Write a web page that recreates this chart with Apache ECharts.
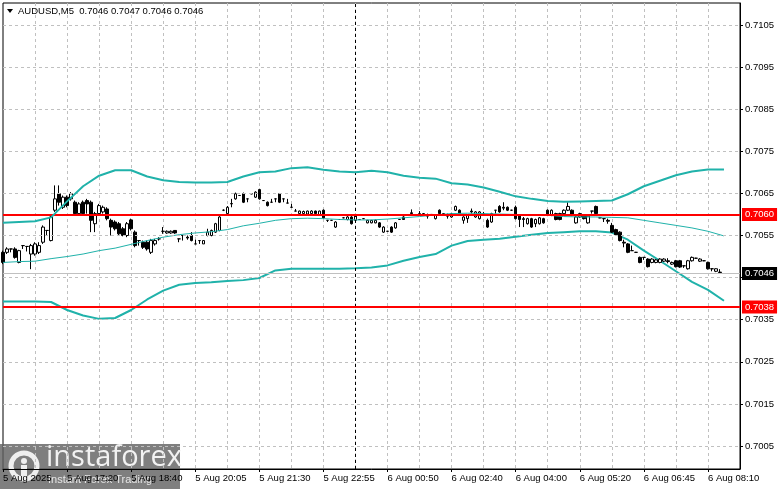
<!DOCTYPE html>
<html>
<head>
<meta charset="utf-8">
<script src="https://cdn.jsdelivr.net/npm/echarts@6/dist/echarts.min.js"></script>
<style>
  html, body { margin: 0; padding: 0; background: #fff; }
  #chart { width: 781px; height: 489px; }
</style>
</head>
<body>
<div id="chart"></div>
<script>
const symbolTitle = "AUDUSD,M5  0.7046 0.7047 0.7046 0.7046";
const slotCount = 185; // visible bar slots, the last few are the empty right shift
const timeLabels = [
  "5 Aug 2025", "5 Aug 17:20", "5 Aug 18:40", "5 Aug 20:05", "5 Aug 21:30", "5 Aug 22:55",
  "6 Aug 00:50", "6 Aug 02:40", "6 Aug 04:00", "6 Aug 05:20", "6 Aug 06:45", "6 Aug 08:10",
];
const barsPerLabel = 16;
const barsPerGrid = 8;
const yTicks = [0.7005, 0.7015, 0.7025, 0.7035, 0.7045, 0.7055, 0.7065, 0.7075, 0.7085, 0.7095, 0.7105];
const levelLines = [0.7060, 0.7038];
const lastPrice = 0.7046;
const daySeparatorBar = 88;

// [open, close, low, high]
const candles = [
  [0.70510, 0.70486, 0.70482, 0.70514], [0.70510, 0.70518, 0.70506, 0.70522], [0.70518, 0.70518, 0.70510, 0.70518],
  [0.70518, 0.70498, 0.70495, 0.70522], [0.70486, 0.70514, 0.70484, 0.70516], [0.70526, 0.70526, 0.70518, 0.70526],
  [0.70524, 0.70524, 0.70512, 0.70524], [0.70506, 0.70526, 0.70470, 0.70530], [0.70506, 0.70530, 0.70502, 0.70534],
  [0.70510, 0.70526, 0.70506, 0.70534], [0.70534, 0.70570, 0.70530, 0.70574], [0.70562, 0.70562, 0.70550, 0.70562],
  [0.70538, 0.70594, 0.70536, 0.70598], [0.70610, 0.70637, 0.70606, 0.70669], [0.70649, 0.70629, 0.70621, 0.70669],
  [0.70617, 0.70641, 0.70613, 0.70645], [0.70641, 0.70621, 0.70617, 0.70645], [0.70637, 0.70649, 0.70633, 0.70653],
  [0.70629, 0.70602, 0.70598, 0.70633], [0.70602, 0.70625, 0.70598, 0.70629], [0.70629, 0.70602, 0.70598, 0.70633],
  [0.70633, 0.70625, 0.70602, 0.70637], [0.70629, 0.70586, 0.70558, 0.70633], [0.70578, 0.70602, 0.70558, 0.70606],
  [0.70602, 0.70621, 0.70598, 0.70625], [0.70606, 0.70617, 0.70602, 0.70621], [0.70613, 0.70590, 0.70586, 0.70617],
  [0.70586, 0.70570, 0.70550, 0.70590], [0.70582, 0.70566, 0.70562, 0.70586], [0.70578, 0.70554, 0.70550, 0.70582],
  [0.70566, 0.70550, 0.70548, 0.70570], [0.70550, 0.70578, 0.70546, 0.70582], [0.70587, 0.70566, 0.70562, 0.70590],
  [0.70558, 0.70526, 0.70522, 0.70562], [0.70538, 0.70538, 0.70526, 0.70538], [0.70534, 0.70522, 0.70518, 0.70538],
  [0.70534, 0.70518, 0.70514, 0.70538], [0.70510, 0.70538, 0.70506, 0.70542], [0.70530, 0.70538, 0.70526, 0.70542],
  [0.70542, 0.70542, 0.70538, 0.70546], [0.70560, 0.70560, 0.70554, 0.70570], [0.70556, 0.70560, 0.70554, 0.70562],
  [0.70556, 0.70560, 0.70554, 0.70562], [0.70562, 0.70556, 0.70554, 0.70562], [0.70542, 0.70542, 0.70534, 0.70542],
  [0.70550, 0.70550, 0.70538, 0.70550], [0.70546, 0.70544, 0.70540, 0.70550], [0.70550, 0.70538, 0.70536, 0.70558],
  [0.70530, 0.70530, 0.70530, 0.70540], [0.70538, 0.70538, 0.70530, 0.70538], [0.70530, 0.70538, 0.70530, 0.70538],
  [0.70550, 0.70558, 0.70548, 0.70566], [0.70550, 0.70562, 0.70548, 0.70564], [0.70558, 0.70578, 0.70556, 0.70580],
  [0.70562, 0.70594, 0.70560, 0.70596], [0.70610, 0.70610, 0.70608, 0.70612], [0.70602, 0.70617, 0.70600, 0.70620],
  [0.70625, 0.70626, 0.70617, 0.70637], [0.70637, 0.70649, 0.70635, 0.70652], [0.70645, 0.70645, 0.70644, 0.70646],
  [0.70649, 0.70629, 0.70627, 0.70652], [0.70637, 0.70637, 0.70629, 0.70637], [0.70649, 0.70649, 0.70648, 0.70650],
  [0.70641, 0.70653, 0.70639, 0.70655], [0.70659, 0.70637, 0.70635, 0.70661], [0.70633, 0.70633, 0.70632, 0.70634],
  [0.70629, 0.70621, 0.70619, 0.70631], [0.70629, 0.70629, 0.70629, 0.70637], [0.70637, 0.70637, 0.70629, 0.70637],
  [0.70649, 0.70629, 0.70627, 0.70651], [0.70637, 0.70637, 0.70629, 0.70637], [0.70627, 0.70627, 0.70627, 0.70637],
  [0.70617, 0.70617, 0.70617, 0.70625], [0.70608, 0.70608, 0.70608, 0.70613], [0.70602, 0.70608, 0.70600, 0.70609],
  [0.70602, 0.70607, 0.70600, 0.70609], [0.70601, 0.70608, 0.70600, 0.70609], [0.70602, 0.70608, 0.70600, 0.70610],
  [0.70608, 0.70602, 0.70600, 0.70609], [0.70598, 0.70608, 0.70597, 0.70609], [0.70610, 0.70592, 0.70590, 0.70612],
  [0.70586, 0.70586, 0.70582, 0.70586], [0.70586, 0.70586, 0.70585, 0.70587], [0.70570, 0.70582, 0.70568, 0.70584],
  [0.70588, 0.70588, 0.70587, 0.70589], [0.70592, 0.70592, 0.70591, 0.70593], [0.70588, 0.70594, 0.70586, 0.70596],
  [0.70594, 0.70578, 0.70576, 0.70596], [0.70586, 0.70598, 0.70584, 0.70600], [0.70588, 0.70588, 0.70587, 0.70589],
  [0.70590, 0.70590, 0.70589, 0.70591], [0.70580, 0.70586, 0.70579, 0.70587], [0.70580, 0.70586, 0.70579, 0.70587],
  [0.70580, 0.70586, 0.70579, 0.70588], [0.70580, 0.70570, 0.70568, 0.70582], [0.70558, 0.70570, 0.70556, 0.70572],
  [0.70560, 0.70560, 0.70559, 0.70561], [0.70570, 0.70558, 0.70556, 0.70572], [0.70568, 0.70580, 0.70566, 0.70582],
  [0.70588, 0.70588, 0.70587, 0.70589], [0.70594, 0.70588, 0.70587, 0.70596], [0.70598, 0.70598, 0.70597, 0.70599],
  [0.70604, 0.70602, 0.70600, 0.70612], [0.70598, 0.70598, 0.70597, 0.70599], [0.70600, 0.70602, 0.70598, 0.70608],
  [0.70602, 0.70602, 0.70601, 0.70603], [0.70596, 0.70598, 0.70590, 0.70602], [0.70600, 0.70600, 0.70599, 0.70601],
  [0.70590, 0.70598, 0.70588, 0.70600], [0.70610, 0.70602, 0.70600, 0.70612], [0.70602, 0.70602, 0.70601, 0.70603],
  [0.70598, 0.70596, 0.70590, 0.70602], [0.70594, 0.70602, 0.70592, 0.70604], [0.70610, 0.70619, 0.70608, 0.70621],
  [0.70610, 0.70602, 0.70600, 0.70612], [0.70586, 0.70594, 0.70578, 0.70596], [0.70590, 0.70598, 0.70580, 0.70600],
  [0.70608, 0.70606, 0.70602, 0.70614], [0.70594, 0.70606, 0.70592, 0.70608], [0.70590, 0.70606, 0.70588, 0.70608],
  [0.70602, 0.70602, 0.70598, 0.70606], [0.70586, 0.70570, 0.70568, 0.70590], [0.70582, 0.70602, 0.70580, 0.70604],
  [0.70610, 0.70610, 0.70602, 0.70610], [0.70619, 0.70606, 0.70604, 0.70622], [0.70617, 0.70615, 0.70610, 0.70629],
  [0.70617, 0.70610, 0.70608, 0.70619], [0.70610, 0.70610, 0.70609, 0.70611], [0.70617, 0.70590, 0.70588, 0.70621],
  [0.70598, 0.70588, 0.70570, 0.70600], [0.70590, 0.70588, 0.70570, 0.70594], [0.70578, 0.70590, 0.70576, 0.70592],
  [0.70590, 0.70570, 0.70568, 0.70592], [0.70578, 0.70588, 0.70570, 0.70590], [0.70578, 0.70592, 0.70576, 0.70594],
  [0.70590, 0.70580, 0.70578, 0.70592], [0.70610, 0.70598, 0.70596, 0.70612], [0.70598, 0.70610, 0.70596, 0.70612],
  [0.70602, 0.70588, 0.70586, 0.70604], [0.70602, 0.70588, 0.70586, 0.70604], [0.70602, 0.70610, 0.70600, 0.70612],
  [0.70610, 0.70619, 0.70608, 0.70629], [0.70610, 0.70598, 0.70596, 0.70612], [0.70580, 0.70594, 0.70578, 0.70596],
  [0.70594, 0.70602, 0.70592, 0.70604], [0.70598, 0.70590, 0.70588, 0.70600], [0.70580, 0.70596, 0.70578, 0.70598],
  [0.70608, 0.70608, 0.70602, 0.70608], [0.70619, 0.70602, 0.70600, 0.70621], [0.70592, 0.70592, 0.70591, 0.70594],
  [0.70590, 0.70590, 0.70582, 0.70590], [0.70586, 0.70584, 0.70578, 0.70590], [0.70574, 0.70558, 0.70556, 0.70580],
  [0.70564, 0.70552, 0.70550, 0.70566], [0.70558, 0.70538, 0.70536, 0.70560], [0.70534, 0.70532, 0.70522, 0.70540],
  [0.70530, 0.70510, 0.70508, 0.70532], [0.70514, 0.70514, 0.70514, 0.70526], [0.70510, 0.70510, 0.70509, 0.70511],
  [0.70498, 0.70486, 0.70484, 0.70500], [0.70498, 0.70498, 0.70492, 0.70498], [0.70494, 0.70476, 0.70474, 0.70496],
  [0.70486, 0.70494, 0.70484, 0.70496], [0.70486, 0.70492, 0.70484, 0.70494], [0.70486, 0.70494, 0.70484, 0.70496],
  [0.70489, 0.70494, 0.70487, 0.70496], [0.70490, 0.70488, 0.70484, 0.70496], [0.70482, 0.70486, 0.70480, 0.70488],
  [0.70490, 0.70476, 0.70474, 0.70492], [0.70490, 0.70475, 0.70473, 0.70492], [0.70478, 0.70478, 0.70473, 0.70478],
  [0.70471, 0.70490, 0.70469, 0.70492], [0.70490, 0.70498, 0.70488, 0.70500], [0.70496, 0.70496, 0.70495, 0.70497],
  [0.70489, 0.70494, 0.70487, 0.70496], [0.70490, 0.70490, 0.70489, 0.70491], [0.70486, 0.70471, 0.70469, 0.70488],
  [0.70471, 0.70471, 0.70465, 0.70471], [0.70465, 0.70471, 0.70463, 0.70472], [0.70463, 0.70462, 0.70460, 0.70470],
];

// Bollinger band readings, one every bandStep bars starting at bar 0
const bandStep = 4;
const upperBand = [
  0.70580, 0.70582, 0.70584, 0.70593, 0.70631, 0.70667, 0.70692, 0.70705, 0.70705, 0.70690,
  0.70681, 0.70677, 0.70676, 0.70676, 0.70677, 0.70690, 0.70700, 0.70702, 0.70710, 0.70712,
  0.70706, 0.70702, 0.70700, 0.70704, 0.70700, 0.70692, 0.70687, 0.70685, 0.70674, 0.70671,
  0.70664, 0.70654, 0.70643, 0.70637, 0.70632, 0.70630, 0.70631, 0.70632, 0.70633, 0.70648,
  0.70667, 0.70680, 0.70693, 0.70702, 0.70707, 0.70707,
];
const middleBand = [
  0.70486, 0.70488, 0.70489, 0.70495, 0.70500, 0.70506, 0.70514, 0.70520, 0.70529, 0.70538,
  0.70546, 0.70552, 0.70556, 0.70559, 0.70564, 0.70573, 0.70579, 0.70586, 0.70590, 0.70591,
  0.70590, 0.70588, 0.70587, 0.70587, 0.70589, 0.70592, 0.70595, 0.70599, 0.70602, 0.70603,
  0.70602, 0.70601, 0.70600, 0.70599, 0.70598, 0.70595, 0.70594, 0.70594, 0.70593, 0.70592,
  0.70586, 0.70580, 0.70574, 0.70568, 0.70560, 0.70549,
];
const lowerBand = [
  0.70393, 0.70393, 0.70393, 0.70392, 0.70373, 0.70360, 0.70352, 0.70354, 0.70373, 0.70398,
  0.70419, 0.70433, 0.70437, 0.70439, 0.70442, 0.70444, 0.70449, 0.70467, 0.70471, 0.70471,
  0.70471, 0.70471, 0.70472, 0.70474, 0.70479, 0.70490, 0.70499, 0.70506, 0.70526, 0.70537,
  0.70540, 0.70542, 0.70547, 0.70552, 0.70556, 0.70558, 0.70560, 0.70560, 0.70557, 0.70540,
  0.70514, 0.70490, 0.70465, 0.70440, 0.70421, 0.70395,
];

const LABEL_FONT = "Liberation Sans";
const FONT_SIZE = 9.5;
const BAND_COLOR = "#20b2aa";
const GRID_COLOR = "#c0c0c0";

const slots = Array.from({ length: slotCount }, (_, i) => String(i));

function spreadBand(values) {
  const out = new Array(slotCount).fill(null);
  values.forEach((v, k) => {
    out[k * bandStep] = v;
  });
  return out;
}

function bandSeries(name, values, width, z, markLine) {
  return {
    name,
    type: "line",
    data: spreadBand(values),
    connectNulls: true,
    showSymbol: false,
    symbol: "none",
    silent: true,
    z,
    lineStyle: { color: BAND_COLOR, width },
    markLine,
  };
}

function priceLabel(bg) {
  return {
    show: true,
    position: "end",
    distance: 2,
    formatter: (p) => Number(p.value).toFixed(4),
    color: "#fff",
    backgroundColor: bg,
    padding: [2, 3, 1, 3],
    fontFamily: LABEL_FONT,
    fontSize: FONT_SIZE,
  };
}

// dashed price grid and the day separator, kept behind the candles
const backLines = {
  silent: true,
  symbol: "none",
  precision: 5, // markLine rounds its values to 2 decimals otherwise
  label: { show: false },
  data: [
    ...yTicks.map((v) => ({ yAxis: v, lineStyle: { color: GRID_COLOR, type: [3, 3], width: 1 } })),
    { xAxis: daySeparatorBar, lineStyle: { color: "#000", type: [3, 3], width: 1 } },
  ],
};

// support/resistance levels and the bid line, drawn on top
const frontLines = {
  silent: true,
  symbol: "none",
  precision: 5,
  data: [
    { yAxis: lastPrice, label: priceLabel("#000000"), lineStyle: { color: "#c0c0c0", type: "solid", width: 1 } },
    ...levelLines.map((v) => ({
      yAxis: v,
      label: priceLabel("#ff0000"),
      lineStyle: { color: "#ff0000", type: "solid", width: 2 },
    })),
  ],
};

const chart = echarts.init(document.getElementById("chart"), null, { renderer: "canvas" });

const option = {
  animation: false,
  backgroundColor: "#ffffff",
  grid: { left: 3, top: 3, right: 41, bottom: 20, show: true, borderColor: "#000", borderWidth: 1 },
  xAxis: {
    type: "category",
    data: slots,
    boundaryGap: false,
    axisLine: { lineStyle: { color: "#000", width: 1 } },
    axisTick: { show: true, length: 3, interval: (i) => i % barsPerLabel === 0, lineStyle: { color: "#000" } },
    axisLabel: {
      interval: (i) => i % barsPerLabel === 0,
      formatter: (v, i) => timeLabels[i / barsPerLabel] || "",
      align: "left",
      margin: 4,
      color: "#000",
      fontFamily: LABEL_FONT,
      fontSize: FONT_SIZE,
    },
    splitLine: {
      show: true,
      interval: (i) => i % barsPerGrid === 0 && i > 0,
      lineStyle: { color: GRID_COLOR, type: [3, 3], width: 1 },
    },
  },
  yAxis: {
    type: "value",
    position: "right",
    min: 0.699954,
    max: 0.711022,
    axisLine: { show: true, lineStyle: { color: "#000", width: 1 } },
    axisTick: { show: true, length: 3, customValues: yTicks, lineStyle: { color: "#000" } },
    axisLabel: {
      customValues: yTicks,
      formatter: (v) => v.toFixed(4),
      margin: 5,
      color: "#000",
      fontFamily: LABEL_FONT,
      fontSize: FONT_SIZE,
    },
    splitLine: { show: false },
  },
  series: [
    bandSeries("lower", lowerBand, 2, 2, backLines),
    {
      name: "AUDUSD",
      type: "candlestick",
      data: candles,
      barWidth: 3,
      z: 3,
      itemStyle: {
        color: "#ffffff",
        color0: "#000000",
        borderColor: "#000000",
        borderColor0: "#000000",
        borderWidth: 1,
      },
    },
    bandSeries("middle", middleBand, 1, 4, undefined),
    bandSeries("upper", upperBand, 2, 5, frontLines),
  ],
  graphic: [
    {
      type: "polygon",
      z: 100,
      shape: { points: [[7, 9], [13, 9], [10, 13]] },
      style: { fill: "#000" },
    },
    {
      type: "text",
      z: 100,
      x: 18,
      y: 6,
      style: { text: symbolTitle, fill: "#000", font: '9.5px "Liberation Sans"' },
    },
    {
      type: "group",
      z: 100,
      children: [
        { type: "rect", shape: { x: 0, y: 444, width: 180, height: 45 }, style: { fill: "rgba(95,95,95,0.8)" } },
        { type: "circle", shape: { cx: 24, cy: 466, r: 13 }, style: { fill: "none", stroke: "#efefef", lineWidth: 5 } },
        { type: "circle", shape: { cx: 24, cy: 461, r: 3 }, style: { fill: "#efefef" } },
        { type: "rect", shape: { x: 21, y: 465, width: 6, height: 12 }, style: { fill: "#efefef" } },
        {
          type: "text",
          x: 46,
          y: 443,
          style: { text: "instaforex", fill: "#f2f2f2", font: '29px "Open Sans"' },
        },
        {
          type: "text",
          x: 48,
          y: 474,
          style: { text: "Instant Forex Trading", fill: "#e6e6e6", font: '11px "Liberation Sans"' },
        },
      ],
    },
  ],
};

chart.setOption(option);
</script>
</body>
</html>
